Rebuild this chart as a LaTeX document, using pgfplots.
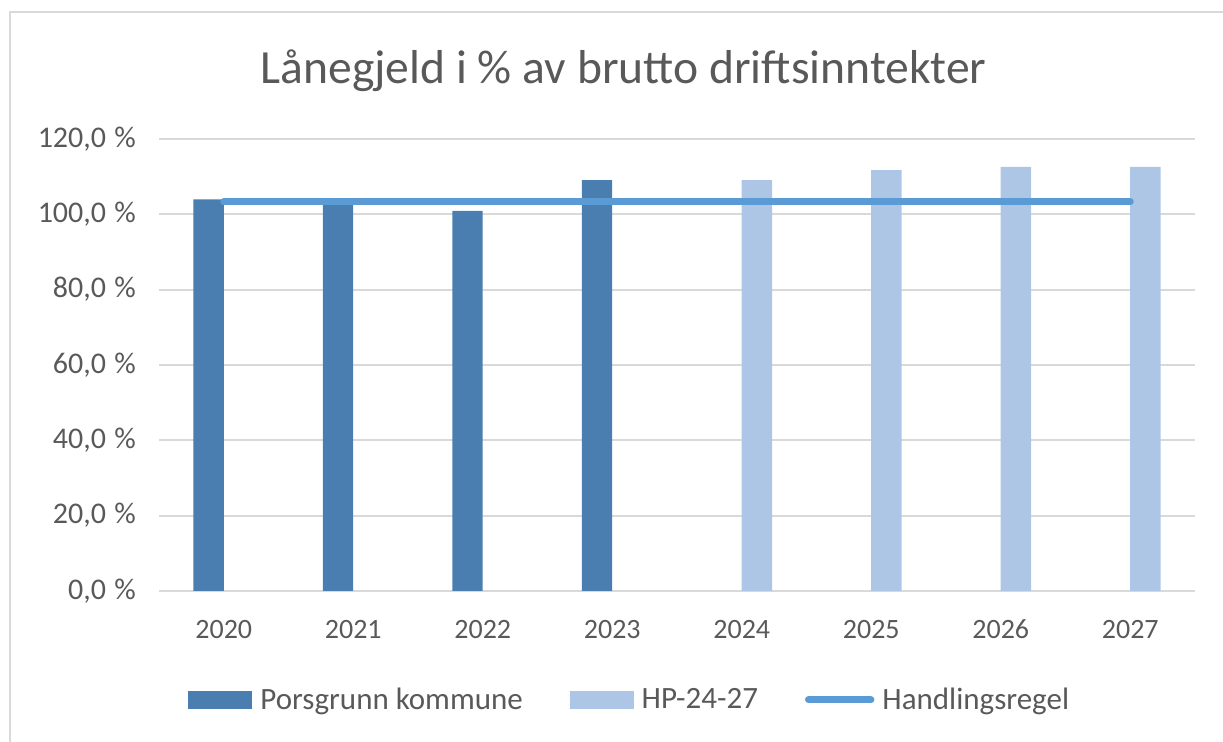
\documentclass[border=0pt]{standalone}
\usepackage{pgfplots}
\pgfplotsset{compat=1.18}
\usepackage{fontspec}
\setmainfont{Carlito}
\definecolor{txt}{HTML}{595959}
\definecolor{gridc}{HTML}{D9D9D9}
\definecolor{darkbar}{HTML}{4A7EB1}
\definecolor{lightbar}{HTML}{ADC6E6}
\definecolor{linec}{HTML}{5B9BD5}
\newcommand{\pc}{\hspace{0.28em}\%}
\begin{document}
\begin{tikzpicture}
\path[use as bounding box] (0,0) rectangle (611.5pt,371pt);
\draw[gridc, line width=1pt] (5pt,-2pt) -- (5pt,365pt) -- (614pt,365pt);
\node[anchor=base, text=txt, font=\fontsize{23.8}{28}\selectfont] at (311.8pt,329.3pt) {Lånegjeld i \% av brutto driftsinntekter};
\begin{axis}[
  at={(79.5pt,75.5pt)}, anchor=south west,
  scale only axis, width=518pt, height=226pt,
  xmin=-0.5, xmax=7.5, ymin=0, ymax=120,
  xtick={0,...,7},
  xticklabels={2020,2021,2022,2023,2024,2025,2026,2027},
  ytick={0,20,...,120},
  yticklabels={{0,0\pc},{20,0\pc},{40,0\pc},{60,0\pc},{80,0\pc},{100,0\pc},{120,0\pc}},
  /pgf/number format/assume math mode=true,
  ymajorgrids, grid style={gridc, line width=1pt},
  axis x line*=bottom, axis y line*=left,
  x axis line style={gridc, line width=1pt, -},
  y axis line style={draw=none},
  major tick length=0pt,
  tick label style={text=txt, font=\fontsize{14}{17}\selectfont},
  yticklabel style={xshift=-8pt, font=\fontsize{15}{18}\selectfont},
  xticklabel style={yshift=-11pt},
  ybar, bar width=0.2355,
  legend columns=3,
  legend style={at={(axis description cs:0.028,-0.241)}, anchor=west, draw=none, fill=none, inner sep=0pt,
    font=\fontsize{15.5}{18}\selectfont, text=txt,
    /tikz/every even column/.append style={column sep=21.5pt},
    /tikz/every odd column/.append style={column sep=2pt}},
]
\addplot[fill=darkbar, draw=none, bar shift=-0.11775,
  legend image code/.code={\fill[darkbar] (0pt,-4.5pt) rectangle (32pt,4.5pt);}]
  coordinates {(0,104.0) (1,103.0) (2,100.9) (3,109.1)};
\addlegendentry{Porsgrunn kommune}
\addplot[fill=lightbar, draw=none, bar shift=0.11775,
  legend image code/.code={\fill[lightbar] (0pt,-4.5pt) rectangle (32pt,4.5pt);}]
  coordinates {(4,109.1) (5,111.7) (6,112.6) (7,112.6)};
\addlegendentry{HP-24-27}
\addplot[sharp plot, linec, line width=3.5pt, line cap=round,
  legend image code/.code={\draw[linec, line width=3.5pt, line cap=round] (1.75pt,0pt) -- (33pt,0pt);}]
  coordinates {(0,103.3) (7,103.3)};
\addlegendentry{Handlingsregel}
\end{axis}
\end{tikzpicture}
\end{document}
